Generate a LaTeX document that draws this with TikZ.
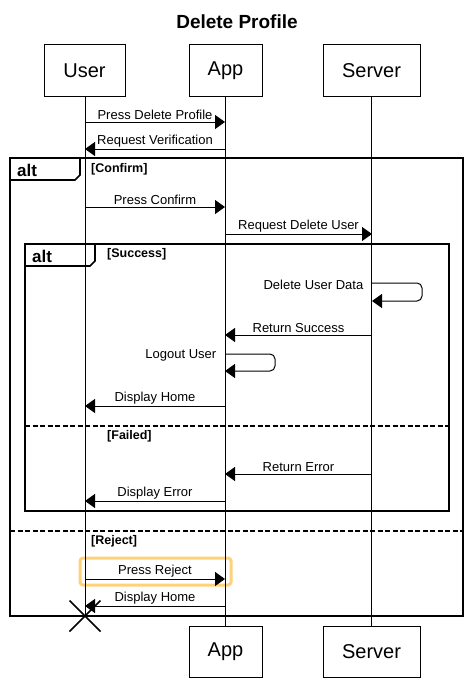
\documentclass[tikz,border=0pt]{standalone}
\usepackage{fontspec}
\setmainfont{Liberation Sans}
\usetikzlibrary{arrows.meta}
\definecolor{hl}{HTML}{FFD27A}
\tikzset{
  participant/.style={draw, line width=1pt, minimum height=51pt, inner sep=0pt, font=\fontsize{20}{24}\selectfont},
  lifeline/.style={line width=1pt},
  msg/.style={line width=1pt, -{Triangle[length=10pt,width=14pt]}},
  lbl/.style={font=\fontsize{13}{15}\selectfont, inner sep=1.5pt},
  guard/.style={font=\bfseries\fontsize{12.5}{15}\selectfont, inner sep=0pt, anchor=west},
  frame/.style={line width=1.7pt},
  sep/.style={line width=1.6pt, dash pattern=on 5pt off 2.5pt},
  altlbl/.style={font=\bfseries\fontsize{17}{20}\selectfont, inner sep=0pt, anchor=west},
}
\begin{document}
\begin{tikzpicture}[x=1pt,y=-1pt]
\useasboundingbox (0,0) rectangle (471,685);
% title
\node[font=\bfseries\fontsize{19}{22}\selectfont] (title) at (237,22) {Delete Profile};
% participants
\node[participant, minimum width=81pt] (ut) at (84.5,70.5) {User};
\node[participant, minimum width=73pt] (at) at (225.5,70.5) {App};
\node[participant, minimum width=97pt] (st) at (371.5,70.5) {Server};
\node[participant, minimum width=73pt] (ab) at (225.5,651.5) {App};
\node[participant, minimum width=97pt] (sb) at (371.5,651.5) {Server};
\coordinate (uend) at (85,616);
% highlight
\draw[hl, line width=3pt, rounded corners=3pt] (80,558) rectangle (231,585);
% lifelines
\draw[lifeline] (ut.south -| 85,0) -- (uend);
\draw[lifeline] (at.south) -- (ab.north);
\draw[lifeline] (st.south) -- (sb.north);
% frames
\draw[frame] (10,158) rectangle (463,616);
\draw[frame] (10,158) -- (80,158) -- (80,175) -- (75,180) -- (10,180);
\node[altlbl] (alt1) at (17,170) {alt};
\node[guard] (g1) at (91,169) {[Confirm]};
\draw[frame] (25,244) rectangle (449,511);
\draw[frame] (25,244) -- (95,244) -- (95,261) -- (90,266) -- (25,266);
\node[altlbl] (alt2) at (32,256) {alt};
\node[guard] (g2) at (107,254) {[Success]};
\draw[sep] (25,426) -- (449,426);
\node[guard] (g3) at (107,436) {[Failed]};
\draw[sep] (10,531) -- (463,531);
\node[guard] (g4) at (91,541) {[Reject]};
% message end points
\coordinate (u1) at (85,122); \coordinate (a1) at (225,122);
\coordinate (u2) at (85,149); \coordinate (a2) at (225,149);
\coordinate (u3) at (85,207); \coordinate (a3) at (225,207);
\coordinate (a4) at (225,234); \coordinate (s4) at (372,234);
\coordinate (s5) at (372,283); \coordinate (s5b) at (372,301);
\coordinate (a6) at (225,335); \coordinate (s6) at (372,335);
\coordinate (a7) at (225,354); \coordinate (a7b) at (225,371);
\coordinate (u8) at (85,406); \coordinate (a8) at (225,406);
\coordinate (a9) at (225,474); \coordinate (s9) at (372,474);
\coordinate (u10) at (85,501); \coordinate (a10) at (225,501);
\coordinate (u11) at (85,579); \coordinate (a11) at (225,579);
\coordinate (u12) at (85,606); \coordinate (a12) at (225,606);
% messages
\draw[msg] (u1) -- node[lbl, above] (l1) {Press Delete Profile} (a1);
\draw[msg] (a2) -- node[lbl, above] (l2) {Request Verification} (u2);
\draw[msg] (u3) -- node[lbl, above] (l3) {Press Confirm} (a3);
\draw[msg] (a4) -- node[lbl, above] (l4) {Request Delete User} (s4);
\draw[msg, rounded corners=5pt] (s5) -- ++(50,0) -- ++(0,18) -- (s5b);
\node[lbl, anchor=east] (l5) at (365,285) {Delete User Data};
\draw[msg] (s6) -- node[lbl, above] (l6) {Return Success} (a6);
\draw[msg, rounded corners=5pt] (a7) -- ++(50,0) -- ++(0,17) -- (a7b);
\node[lbl, anchor=east] (l7) at (218,355) {Logout User};
\draw[msg] (a8) -- node[lbl, above] (l8) {Display Home} (u8);
\draw[msg] (s9) -- node[lbl, above] (l9) {Return Error} (a9);
\draw[msg] (a10) -- node[lbl, above] (l10) {Display Error} (u10);
\draw[msg] (u11) -- node[lbl, above] (l11) {Press Reject} (a11);
\draw[msg] (a12) -- node[lbl, above] (l12) {Display Home} (u12);
% destruction
\draw[line width=1.5pt] (uend) ++(-15.5,-15.5) -- ++(31,31);
\draw[line width=1.5pt] (uend) ++(-15.5,15.5) -- ++(31,-31);
\end{tikzpicture}
\end{document}
